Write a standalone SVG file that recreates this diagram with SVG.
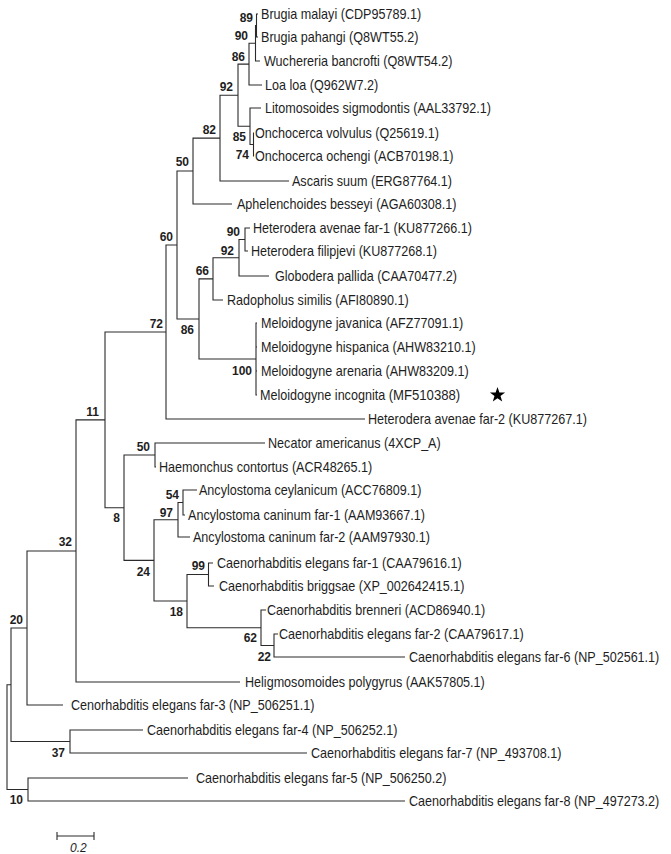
<svg xmlns="http://www.w3.org/2000/svg" width="671" height="854" viewBox="0 0 671 854">
<style>
.br{fill:none;stroke:#2a2a2a;stroke-width:1.1}
.lf{font-family:"Liberation Sans",Arial,sans-serif;font-size:14px;fill:#1e1e1e}
.bs{font-family:"Liberation Sans",Arial,sans-serif;font-size:12px;font-weight:bold;fill:#1e1e1e;text-anchor:end}
.sc{font-family:"Liberation Sans",Arial,sans-serif;font-size:12px;font-style:italic;fill:#1e1e1e}
</style>
<rect width="671" height="854" fill="#ffffff"/>
<g id="connectors">
<path class="br" d="M258 14H256.5V37H258"/>
<path class="br" d="M256.5 25.5H255.5V61H260"/>
<path class="br" d="M255.5 43.25H249V85H262"/>
<path class="br" d="M254 133H253.5V156H254"/>
<path class="br" d="M261 108H250V144.5H253.5"/>
<path class="br" d="M249 64.1H238V126.25H250"/>
<path class="br" d="M238 95.2H220V181H289"/>
<path class="br" d="M220 138.1H193V204H232"/>
<path class="br" d="M250 228H245V251H248"/>
<path class="br" d="M245 239.5H239V276H269"/>
<path class="br" d="M239 257.75H213V300H223"/>
<path class="br" d="M257 323H256V395H257M256 347H257M256 371H257"/>
<path class="br" d="M213 278.9H199V359H256"/>
<path class="br" d="M193 171H177V319H199"/>
<path class="br" d="M177 245H166V419H365"/>
<path class="br" d="M265 443H155V467H156"/>
<path class="br" d="M197 490H183V515H185"/>
<path class="br" d="M183 502.5H178V537H190"/>
<path class="br" d="M213 563H208.5V586H214"/>
<path class="br" d="M278 634H274V657H405"/>
<path class="br" d="M266 610H261V645.5H274"/>
<path class="br" d="M208.5 574.5H187V627.75H261"/>
<path class="br" d="M178 519.75H154V601H187"/>
<path class="br" d="M155 455H124V560.4H154"/>
<path class="br" d="M166 332H105V507.7H124"/>
<path class="br" d="M105 419.9H76V682H240"/>
<path class="br" d="M76 551H27V705H63"/>
<path class="br" d="M143 730H70V753H307"/>
<path class="br" d="M27 628H11V741.5H70"/>
<path class="br" d="M188 778H28V801H405"/>
<path class="br" d="M11 684.75H7V789.5H28"/>
</g>
<g id="internal-nodes">
<g id="n89"><text class="bs" x="253" y="21.6">89</text></g>
<g id="n90a"><text class="bs" x="248" y="40">90</text></g>
<g id="n86a"><text class="bs" x="245" y="61">86</text></g>
<g id="n92a"><text class="bs" x="233" y="91.3">92</text></g>
<g id="n82"><text class="bs" x="216" y="134.3">82</text></g>
<g id="n85"><text class="bs" x="246" y="141.3">85</text></g>
<g id="n74"><text class="bs" x="249" y="159.3">74</text></g>
<g id="n50a"><text class="bs" x="189" y="166">50</text></g>
<g id="n60"><text class="bs" x="173" y="241.3">60</text></g>
<g id="n90b"><text class="bs" x="240" y="236.3">90</text></g>
<g id="n92b"><text class="bs" x="234" y="255.3">92</text></g>
<g id="n66"><text class="bs" x="209" y="275.3">66</text></g>
<g id="n86b"><text class="bs" x="194" y="334.3">86</text></g>
<g id="n100"><text class="bs" x="252" y="375.3">100</text></g>
<g id="n72"><text class="bs" x="163" y="328.3">72</text></g>
<g id="n11"><text class="bs" x="99" y="416.3">11</text></g>
<g id="n50b"><text class="bs" x="150" y="451.3">50</text></g>
<g id="n54"><text class="bs" x="179" y="499.3">54</text></g>
<g id="n97"><text class="bs" x="173" y="517.3">97</text></g>
<g id="n8"><text class="bs" x="120" y="522.3">8</text></g>
<g id="n24"><text class="bs" x="150" y="576.3">24</text></g>
<g id="n99"><text class="bs" x="205" y="570.3">99</text></g>
<g id="n18"><text class="bs" x="183" y="616.3">18</text></g>
<g id="n62"><text class="bs" x="257" y="642.3">62</text></g>
<g id="n22"><text class="bs" x="271" y="661.3">22</text></g>
<g id="n32"><text class="bs" x="72" y="546.3">32</text></g>
<g id="n20"><text class="bs" x="23" y="624.3">20</text></g>
<g id="n37"><text class="bs" x="65" y="757.3">37</text></g>
<g id="n10"><text class="bs" x="23" y="804.3">10</text></g>
</g>
<g id="leaves" transform="scale(0.9 1)">
<g id="leaf-brugia-malayi"><text class="lf" x="290" y="19">Brugia malayi (CDP95789.1)</text></g>
<g id="leaf-brugia-pahangi"><text class="lf" x="290" y="42">Brugia pahangi (Q8WT55.2)</text></g>
<g id="leaf-wuchereria"><text class="lf" x="293.3" y="66">Wuchereria bancrofti (Q8WT54.2)</text></g>
<g id="leaf-loa-loa"><text class="lf" x="294.4" y="90">Loa loa (Q962W7.2)</text></g>
<g id="leaf-litomosoides"><text class="lf" x="294.4" y="113">Litomosoides sigmodontis (AAL33792.1)</text></g>
<g id="leaf-onchocerca-volvulus"><text class="lf" x="283.3" y="138">Onchocerca volvulus (Q25619.1)</text></g>
<g id="leaf-onchocerca-ochengi"><text class="lf" x="283.3" y="161">Onchocerca ochengi (ACB70198.1)</text></g>
<g id="leaf-ascaris"><text class="lf" x="324.4" y="186">Ascaris suum (ERG87764.1)</text></g>
<g id="leaf-aphelenchoides"><text class="lf" x="263.3" y="209">Aphelenchoides besseyi (AGA60308.1)</text></g>
<g id="leaf-heterodera-far1"><text class="lf" x="281.1" y="233">Heterodera avenae far-1 (KU877266.1)</text></g>
<g id="leaf-heterodera-filipjevi"><text class="lf" x="278.9" y="256">Heterodera filipjevi (KU877268.1)</text></g>
<g id="leaf-globodera"><text class="lf" x="305.6" y="281">Globodera pallida (CAA70477.2)</text></g>
<g id="leaf-radopholus"><text class="lf" x="252.2" y="305">Radopholus similis (AFI80890.1)</text></g>
<g id="leaf-meloidogyne-javanica"><text class="lf" x="290" y="328">Meloidogyne javanica (AFZ77091.1)</text></g>
<g id="leaf-meloidogyne-hispanica"><text class="lf" x="290" y="352">Meloidogyne hispanica (AHW83210.1)</text></g>
<g id="leaf-meloidogyne-arenaria"><text class="lf" x="290" y="376">Meloidogyne arenaria (AHW83209.1)</text></g>
<g id="leaf-meloidogyne-incognita"><text class="lf" x="288.9" y="400">Meloidogyne incognita <tspan font-size="14.6px">(MF510388)</tspan></text></g>
<g id="leaf-heterodera-far2"><text class="lf" x="408.9" y="424">Heterodera avenae far-2 (KU877267.1)</text></g>
<g id="leaf-necator"><text class="lf" x="297.8" y="448">Necator americanus (4XCP_A)</text></g>
<g id="leaf-haemonchus"><text class="lf" x="176.7" y="472">Haemonchus contortus (ACR48265.1)</text></g>
<g id="leaf-ancylostoma-ceylanicum"><text class="lf" x="221.1" y="495">Ancylostoma ceylanicum (ACC76809.1)</text></g>
<g id="leaf-ancylostoma-far1"><text class="lf" x="208.9" y="520">Ancylostoma caninum far-1 (AAM93667.1)</text></g>
<g id="leaf-ancylostoma-far2"><text class="lf" x="214.4" y="542">Ancylostoma caninum far-2 (AAM97930.1)</text></g>
<g id="leaf-celegans-far1"><text class="lf" x="241.1" y="568">Caenorhabditis elegans far-1 (CAA79616.1)</text></g>
<g id="leaf-cbriggsae"><text class="lf" x="243.3" y="591">Caenorhabditis briggsae (XP_002642415.1)</text></g>
<g id="leaf-cbrenneri"><text class="lf" x="296.7" y="615">Caenorhabditis brenneri (ACD86940.1)</text></g>
<g id="leaf-celegans-far2"><text class="lf" x="310" y="639">Caenorhabditis elegans far-2 (CAA79617.1)</text></g>
<g id="leaf-celegans-far6"><text class="lf" x="454.4" y="662">Caenorhabditis elegans far-6 (NP_502561.1)</text></g>
<g id="leaf-heligmosomoides"><text class="lf" x="272.2" y="687">Heligmosomoides polygyrus (AAK57805.1)</text></g>
<g id="leaf-celegans-far3"><text class="lf" x="78.9" y="710">Cenorhabditis elegans far-3 (NP_506251.1)</text></g>
<g id="leaf-celegans-far4"><text class="lf" x="163.3" y="735">Caenorhabditis elegans far-4 (NP_506252.1)</text></g>
<g id="leaf-celegans-far7"><text class="lf" x="345.6" y="758">Caenorhabditis elegans far-7 (NP_493708.1)</text></g>
<g id="leaf-celegans-far5"><text class="lf" x="217.8" y="783">Caenorhabditis elegans far-5 (NP_506250.2)</text></g>
<g id="leaf-celegans-far8"><text class="lf" x="454.4" y="806">Caenorhabditis elegans far-8 (NP_497273.2)</text></g>
</g>
<g id="star-marker">
<polygon points="497.5,387 499.4,392.4 505.1,392.5 500.5,396 502.2,401.5 497.5,398.2 492.8,401.5 494.5,396 489.9,392.5 495.6,392.4" fill="#000000"/>
</g>
<g id="scale-bar">
<path class="br" d="M57 836H94M57 832V840M94 832V840"/>
<text class="sc" x="70" y="852">0.2</text>
</g>
</svg>
